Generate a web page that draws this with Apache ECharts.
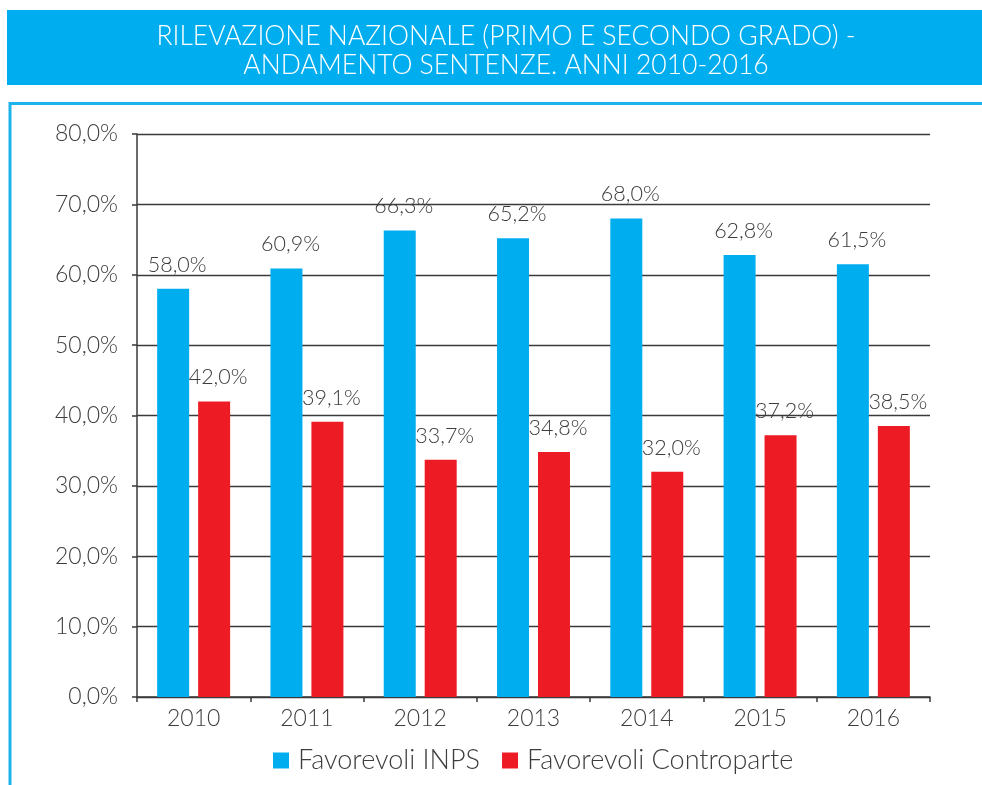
<!DOCTYPE html>
<html>
<head>
<meta charset="utf-8">
<script src="https://cdn.jsdelivr.net/npm/echarts@6/dist/echarts.min.js"></script>
<style>
  html, body { margin: 0; padding: 0; background: #fff; }
  #chart { width: 982px; height: 785px; }
</style>
</head>
<body>
<div id="chart"></div>
<script>
// Anni e percentuali di sentenze favorevoli
const years = ['2010', '2011', '2012', '2013', '2014', '2015', '2016'];
const favorevoliInps = [58.0, 60.9, 66.3, 65.2, 68.0, 62.8, 61.5];
const favorevoliControparte = [42.0, 39.1, 33.7, 34.8, 32.0, 37.2, 38.5];
const seriesNames = ['Favorevoli INPS', 'Favorevoli Controparte'];
const titleLines = ['RILEVAZIONE NAZIONALE (PRIMO E SECONDO GRADO) -', 'ANDAMENTO SENTENZE. ANNI 2010-2016'];

const BLUE = '#00AEEF';
const RED = '#ED1C24';
const TEXT = '#3d3d3d';
const FONT = 'Lato';

const pct = v => v.toFixed(1).replace('.', ',') + '%';

const chart = echarts.init(document.getElementById('chart'), null, { renderer: 'canvas' });

const labelStyle = {
  show: true,
  position: 'top',
  distance: 13,
  offset: [4, 0],
  color: TEXT,
  fontFamily: FONT,
  fontWeight: 300,
  fontSize: 21.5,
  formatter: p => pct(p.value)
};

chart.setOption({
  animation: false,
  textStyle: { fontFamily: FONT },
  graphic: [
    // fascia del titolo
    { type: 'rect', z: 0, shape: { x: 7, y: 10, width: 975, height: 75 }, style: { fill: BLUE } },
    // cornice del pannello
    { type: 'polyline', z: 0, shape: { points: [[10, 785], [10, 103.5], [982, 103.5]] },
      style: { stroke: '#1db4ee', lineWidth: 3, fill: null } }
  ],
  title: {
    text: titleLines.join('\n'),
    left: 501,
    top: 17,
    textAlign: 'center',
    textStyle: { color: '#fff', fontFamily: FONT, fontSize: 26.5, fontWeight: 300, lineHeight: 29 }
  },
  legend: {
    data: seriesNames,
    bottom: 6,
    left: 268,
    itemWidth: 16,
    itemHeight: 16,
    itemGap: 22,
    icon: 'rect',
    textStyle: { color: TEXT, fontFamily: FONT, fontWeight: 300, fontSize: 27, padding: [0, 0, 0, 4] }
  },
  grid: { left: 137, right: 52, top: 134, bottom: 88, containLabel: false },
  xAxis: {
    type: 'category',
    data: years,
    axisLine: { lineStyle: { color: '#3a3a3a', width: 1.5 } },
    axisTick: { show: true, length: 5, alignWithLabel: false, lineStyle: { color: '#3a3a3a', width: 1.5 } },
    axisLabel: { color: TEXT, fontFamily: FONT, fontWeight: 300, fontSize: 23, margin: 10 }
  },
  yAxis: {
    type: 'value',
    min: 0,
    max: 80,
    interval: 10,
    axisLine: { show: true, lineStyle: { color: '#3a3a3a', width: 1.5 } },
    axisTick: { show: true, length: 5, lineStyle: { color: '#3a3a3a', width: 1.5 } },
    axisLabel: { color: TEXT, fontFamily: FONT, fontWeight: 300, fontSize: 23, margin: 19, formatter: v => pct(v) },
    splitLine: { show: true, lineStyle: { color: '#3a3a3a', width: 1.3 } }
  },
  series: [
    {
      name: seriesNames[0],
      type: 'bar',
      data: favorevoliInps,
      barWidth: 32,
      barGap: '28%',
      itemStyle: { color: BLUE },
      label: labelStyle
    },
    {
      name: seriesNames[1],
      type: 'bar',
      data: favorevoliControparte,
      barWidth: 32,
      barGap: '28%',
      itemStyle: { color: RED },
      label: labelStyle
    }
  ]
});
</script>
</body>
</html>
